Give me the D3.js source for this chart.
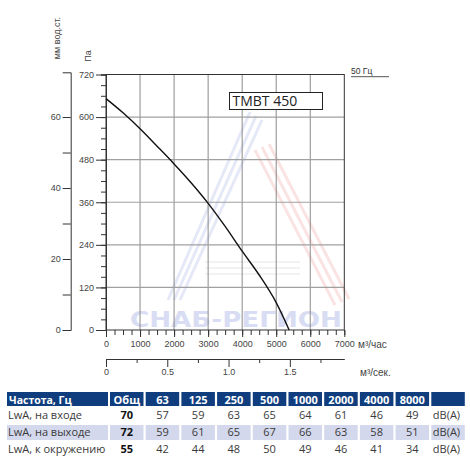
<!DOCTYPE html>
<html><head><meta charset="utf-8">
<script src="https://cdn.jsdelivr.net/npm/d3@7"></script>
<style>body{margin:0;background:#fff;} svg{display:block;}</style>
</head><body><svg id="c" width="470" height="461"></svg>
<script>
// ---- data ----
const flow = [0, 500, 1000, 1500, 2000, 2500, 3000, 3500, 4000, 4500, 5000, 5380];
const pressure = [652, 612, 567, 518, 468, 415, 357, 292, 222, 155, 77, 0];
const paTicks = [0, 120, 240, 360, 480, 600, 720];
const mmTicks = [0, 10, 20, 30, 40, 50, 60];
const mmLabels = [0, 20, 40, 60];
const flowTicks = [0, 1000, 2000, 3000, 4000, 5000, 6000, 7000];
const secTicks = [0, 0.5, 1.0, 1.5];
const secMinor = [0.25, 0.75, 1.25, 1.75];
const modelName = "TMBT 450";
const freqLabel = "50 Гц";
const tableHeader = ["Частота, Гц", "Общ", "63", "125", "250", "500", "1000", "2000", "4000", "8000", ""];
const rowLabels = ["LwA, на входе", "LwA, на выходе", "LwA, к окружению"];
const totals = [70, 72, 55];
const inlet = [57, 59, 63, 65, 64, 61, 46, 49];
const outlet = [59, 61, 65, 67, 66, 63, 58, 51];
const ambient = [42, 44, 48, 50, 49, 46, 41, 34];
const unitLabel = "dB(A)";

// ---- layout ----
const svg = d3.select("#c");
const X0 = 106, X1 = 344.3, Y0 = 74.5, Y1 = 330;
const x = d3.scaleLinear().domain([0, 7000]).range([X0, X1]);
const y = d3.scaleLinear().domain([0, 720]).range([Y1, Y0]);
const xs = d3.scaleLinear().domain([0, 7000 / 3600]).range([X0, X1]);
const mm = d3.scaleLinear().domain([0, 72.6]).range([Y1, 72.3]);
const axisFont = "'Liberation Sans', Arial, sans-serif";
const txtCol = "#444";

// watermark (decorative)
const wm = svg.append("g");
[[0, 0], [6, 4], [12, 8]].forEach(([dx, dy]) => {
  wm.append("line").attr("x1", 250 + dx).attr("y1", 112 + dy).attr("x2", 168 + dx).attr("y2", 300)
    .attr("stroke", "rgba(110,125,205,0.18)").attr("stroke-width", 3);
});
[[0, 0], [7, -3], [14, -6]].forEach(([dx, dy]) => {
  wm.append("line").attr("x1", 255 + dx).attr("y1", 150 + dy).attr("x2", 335 + dx).attr("y2", 305 + dy)
    .attr("stroke", "rgba(225,80,80,0.16)").attr("stroke-width", 3);
});
[[0], [6], [12]].forEach(([dy]) => {
  wm.append("line").attr("x1", 205).attr("y1", 262 + dy).attr("x2", 300).attr("y2", 262 + dy)
    .attr("stroke", "rgba(150,150,160,0.12)").attr("stroke-width", 2);
});
wm.append("text").attr("x", 130).attr("y", 327)
  .attr("font-family", "'DejaVu Sans', sans-serif").attr("font-weight", "bold").attr("font-size", 21)
  .attr("textLength", 212).attr("lengthAdjust", "spacingAndGlyphs")
  .attr("fill", "#d9ddf3").text("СНАБ-РЕГИОН");

// grid
const grid = svg.append("g");
grid.selectAll(".gv").data(flowTicks.slice(1, -1)).enter().append("line")
  .attr("x1", d => x(d)).attr("x2", d => x(d)).attr("y1", Y0).attr("y2", Y1)
  .attr("stroke", "#8a8a8a").attr("stroke-width", 1);
grid.selectAll(".gh").data(paTicks.slice(1, -1)).enter().append("line")
  .attr("x1", X0).attr("x2", X1).attr("y1", d => y(d)).attr("y2", d => y(d))
  .attr("stroke", "#a0a0a0").attr("stroke-width", 1.2);
grid.append("rect").attr("x", X0).attr("y", Y0).attr("width", X1 - X0).attr("height", Y1 - Y0)
  .attr("fill", "none").attr("stroke", "#333").attr("stroke-width", 1);

function styleAxis(g, showDomain) {
  g.selectAll("text").attr("font-family", axisFont).attr("font-size", 9).attr("fill", txtCol);
  g.selectAll("line").attr("stroke", "#333");
  g.select(".domain").attr("stroke", showDomain ? "#333" : "none");
}

// Pa axis
const paMinor = svg.append("g").attr("transform", `translate(${X0},0)`)
  .call(d3.axisLeft(y).tickValues(d3.range(0, 721, 30)).tickSize(5).tickFormat(""));
styleAxis(paMinor, true);
const paMajor = svg.append("g").attr("transform", `translate(${X0},0)`)
  .call(d3.axisLeft(y).tickValues(paTicks).tickSize(10).tickSizeOuter(0).tickPadding(2));
styleAxis(paMajor, false);

// mm axis
const mmAx = svg.append("g").attr("transform", "translate(70.7,0)")
  .call(d3.axisLeft(mm).tickValues(mmTicks).tickSize(8).tickSizeOuter(8).tickPadding(2)
    .tickFormat(d => mmLabels.includes(d) ? d : ""));
styleAxis(mmAx, true);

// flow axis (m3/h)
const fMinor = svg.append("g").attr("transform", `translate(0,${Y1})`)
  .call(d3.axisBottom(x).tickValues(d3.range(0, 7001, 250)).tickSize(5).tickFormat(""));
styleAxis(fMinor, false);
const fMajor = svg.append("g").attr("transform", `translate(0,${Y1})`)
  .call(d3.axisBottom(x).tickValues(flowTicks).tickSize(7).tickSizeOuter(0).tickPadding(4).tickFormat(d3.format("d")));
styleAxis(fMajor, false);

// m3/s axis
const sY = 359;
const sMinor = svg.append("g").attr("transform", `translate(0,${sY})`)
  .call(d3.axisBottom(xs).tickValues(secMinor).tickSize(4).tickSizeOuter(0).tickFormat(""));
styleAxis(sMinor, true);
const sMajor = svg.append("g").attr("transform", `translate(0,${sY})`)
  .call(d3.axisBottom(xs).tickValues(secTicks).tickSize(8).tickSizeOuter(0).tickPadding(2)
    .tickFormat(d => d === 0 ? "0" : d3.format(".1f")(d)));
styleAxis(sMajor, false);

// units
function label(t, xx, yy, size, anchor) {
  return svg.append("text").attr("x", xx).attr("y", yy).attr("font-family", axisFont)
    .attr("font-size", size).attr("fill", txtCol).attr("text-anchor", anchor || "start").text(t);
}
label("м³/час", 358, 347.5, 10);
label("м³/сек.", 360, 375.5, 10);
svg.append("text").attr("transform", "translate(59.5,38) rotate(-90)").attr("text-anchor", "middle")
  .attr("font-family", axisFont).attr("font-size", 9).attr("fill", txtCol).text("мм вод.ст.");
svg.append("text").attr("transform", "translate(90.5,56) rotate(-90)").attr("text-anchor", "middle")
  .attr("font-family", axisFont).attr("font-size", 9).attr("fill", txtCol).text("Па");

// 50 Hz
label(freqLabel, 351, 73.5, 8.5).attr("fill", "#333");
svg.append("line").attr("x1", 351).attr("x2", 389).attr("y1", 76.7).attr("y2", 76.7)
  .attr("stroke", "#555").attr("stroke-width", 1);

// model box
svg.append("rect").attr("x", 229.5).attr("y", 92.5).attr("width", 93).attr("height", 17)
  .attr("fill", "#fff").attr("stroke", "#222").attr("stroke-width", 1);
svg.append("text").attr("x", 232.5).attr("y", 106).attr("font-family", "'Open Sans', sans-serif")
  .attr("font-size", 14).attr("fill", "#222").text(modelName);

// curve
const pts = flow.map((f, i) => [f, pressure[i]]);
svg.append("path").datum(pts)
  .attr("d", d3.line().x(d => x(d[0])).y(d => y(d[1])).curve(d3.curveMonotoneX))
  .attr("fill", "none").attr("stroke", "#111").attr("stroke-width", 1.4);

// table
const tFont = "'Open Sans', sans-serif";
const colX = i => i === 0 ? 7 : 110 + (i - 1) * 35.7;
const colW = i => i === 0 ? 101 : 33.5;
const tbl = svg.append("g");
tableHeader.forEach((h, i) => {
  tbl.append("rect").attr("x", colX(i)).attr("y", 392).attr("width", colW(i)).attr("height", 14).attr("fill", "#0f3d7d");
  tbl.append("text").attr("x", i === 0 ? 9 : colX(i) + colW(i) / 2).attr("y", 403.5)
    .attr("text-anchor", i === 0 ? "start" : "middle").attr("font-family", tFont)
    .attr("font-weight", "bold").attr("font-size", i === 0 ? 10.5 : 11).attr("fill", "#fff").text(h);
});
const rows = [inlet, outlet, ambient];
const baselines = [419, 436, 453];
rows.forEach((vals, r) => {
  if (r === 1) {
    tableHeader.forEach((h, i) => {
      tbl.append("rect").attr("x", colX(i)).attr("y", 425).attr("width", colW(i)).attr("height", 15).attr("fill", "#d3d8ec");
    });
  }
  const by = baselines[r];
  tbl.append("text").attr("x", 8).attr("y", by).attr("font-family", tFont).attr("font-size", 11)
    .attr("fill", "#3a3a3a").text(rowLabels[r]);
  tbl.append("text").attr("x", colX(1) + colW(1) / 2).attr("y", by).attr("text-anchor", "middle")
    .attr("font-family", tFont).attr("font-size", 11).attr("font-weight", "bold").attr("fill", "#111").text(totals[r]);
  vals.forEach((v, j) => {
    tbl.append("text").attr("x", colX(j + 2) + colW(j + 2) / 2).attr("y", by).attr("text-anchor", "middle")
      .attr("font-family", tFont).attr("font-size", 11).attr("fill", "#3a3a3a").text(v);
  });
  tbl.append("text").attr("x", colX(10) + 1.5).attr("y", by).attr("font-family", tFont).attr("font-size", 11)
    .attr("fill", "#3a3a3a").text(unitLabel);
});
</script></body></html>
